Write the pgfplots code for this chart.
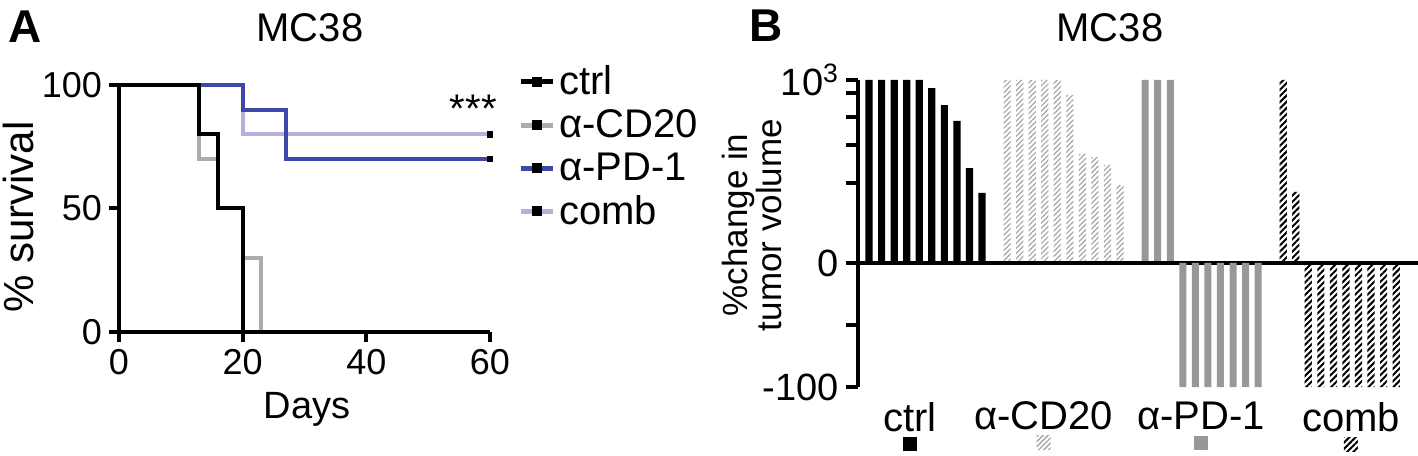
\documentclass[border=0pt]{standalone}
\usepackage{fontspec}
\setmainfont{Liberation Sans}
\usepackage{pgfplots}
\pgfplotsset{compat=1.18}
\usetikzlibrary{patterns,patterns.meta}

\definecolor{pdblue}{RGB}{63,72,170}
\definecolor{combpurple}{RGB}{180,176,218}
\definecolor{cdgray}{RGB}{172,172,172}
\definecolor{pdgray}{RGB}{152,152,152}
\definecolor{hatchgray}{RGB}{165,165,165}

\pgfplotsset{
  gp/.style={
    scale only axis,
    axis on top,
    axis x line=bottom, axis y line=left,
    axis line style={-, line width=2pt},
    tick align=outside,
    major tick length=5pt,
    tick style={line width=2pt, black},
    /pgf/number format/assume math mode=true,
  },
}

% small group keys shown under the category names
\newcommand{\key}[1]{\tikz\path[#1] (0pt,0pt) rectangle (7pt,7pt);}

\begin{document}
\begin{tikzpicture}
\useasboundingbox (0pt,0pt) rectangle (709pt,227.5pt);

% ---------- A: survival ----------
\node[anchor=base west, font=\fontsize{23}{25}\selectfont\bfseries] at (0.5pt,206pt) {A};
\node[anchor=base, font=\fontsize{20}{22}\selectfont] at (155pt,206.5pt) {MC38};

\begin{axis}[gp,
  at={(59.5pt,61.5pt)}, anchor=origin,
  width=185.5pt, height=123.5pt,
  xmin=0, xmax=60, ymin=0, ymax=100,
  xtick={0,20,40,60}, ytick={0,50,100},
  tick label style={font=\fontsize{18}{20}\selectfont},
  clip=false,
  legend image code/.code={
    \draw[#1] (0pt,0pt) -- (16pt,0pt);
    \fill[black] (6.8pt,-1.3pt) rectangle (9.4pt,1.3pt);},
  legend style={draw=none, fill=none, inner sep=0pt,
    at={(axis description cs:1.075,1.095)}, anchor=north west,
    font=\fontsize{20}{22}\selectfont, row sep=2pt},
  legend cell align=left,
]
\addlegendimage{black, line width=2.5pt}
\addlegendentry{ctrl}
\addlegendimage{cdgray, line width=2.5pt}
\addlegendentry{α-CD20}
\addlegendimage{pdblue, line width=2.5pt}
\addlegendentry{α-PD-1}
\addlegendimage{combpurple, line width=2.5pt}
\addlegendentry{comb}

\addplot[const plot, cdgray, line width=2pt, forget plot]
  coordinates {(0,100)(13,70)(16,50)(20,30)(23,0)};
\addplot[const plot, combpurple, line width=2pt, forget plot]
  coordinates {(0,100)(20,80)(60,80)};
\addplot[const plot, pdblue, line width=2pt, forget plot]
  coordinates {(0,100)(20,90)(27,70)(60,70)};
\addplot[const plot, black, line width=2pt, forget plot]
  coordinates {(0,100)(13,80)(16,50)(20,0)};
\addplot[only marks, mark=square*, mark size=1.3pt, black, forget plot]
  coordinates {(60,80)(60,70)};
\node[font=\fontsize{20}{22}\selectfont] at (axis cs:57.3,90.5) {***};
\end{axis}

\node[anchor=base, font=\fontsize{19}{21}\selectfont] at (153.5pt,18.5pt) {Days};
\node[rotate=90, font=\fontsize{21}{23}\selectfont] at (9pt,119pt) {\% survival};

% ---------- B: waterfall ----------
\node[anchor=base west, font=\fontsize{23}{25}\selectfont\bfseries] at (371pt,206.5pt) {B};
\node[anchor=base, font=\fontsize{20}{22}\selectfont] at (555pt,206.5pt) {MC38};
\node[rotate=90, align=center, font=\fontsize{17.5}{16}\selectfont] at (376pt,115pt)
  {\%change in\\tumor volume};

\begin{axis}[gp,
  at={(429pt,96pt)}, anchor=south west,
  width=280pt, height=91.5pt,
  xmin=0.12, xmax=44.74, ymin=0, ymax=1000,
  xtick=\empty,
  ytick={0,437,645,798,929,1000},
  yticklabels={0,{},{},{},{},10\textsuperscript{3}},
  major tick length=6pt,
  tick label style={font=\fontsize{19}{21}\selectfont},
]
\addplot[ybar, bar shift=0pt, bar width=3.6pt, fill=black, draw=none]
  coordinates {(1,1000)(2,1000)(3,1000)(4,1000)(5,1000)(6,956)(7,863)(8,776)(9,519)(10,383)};
\addplot[ybar, bar shift=0pt, bar width=3.6pt, draw=none,
  pattern={Lines[angle=45,distance=1.8pt,line width=0.6pt]}, pattern color=hatchgray]
  coordinates {(12,1000)(13,1000)(14,1000)(15,1000)(16,1000)(17,918)(18,596)(19,579)(20,536)(21,426)};
\addplot[ybar, bar shift=0pt, bar width=3.5pt, fill=pdgray, draw=none]
  coordinates {(23,1000)(24,1000)(25,1000)};
\addplot[ybar, bar shift=0pt, bar width=3.6pt, draw=none,
  pattern={Lines[angle=45,distance=2.2pt,line width=1pt]}, pattern color=black]
  coordinates {(34,1000)(35,388)};
\end{axis}

\begin{axis}[gp,
  at={(429pt,96pt)}, anchor=north west,
  width=280pt, height=62pt,
  xmin=0.12, xmax=44.74, ymin=-100, ymax=0,
  x axis line style={draw=none},
  major x tick style={draw=none},
  xtick={4.27,14.9,27.45,39.4},
  xticklabels={
    {ctrl\\[-12pt]\key{fill=black}},
    {α-CD20\\[-12pt]\key{pattern={Lines[angle=45,distance=1.8pt,line width=0.7pt]}, pattern color=hatchgray}},
    {α-PD-1\\[-12pt]\key{fill=pdgray}},
    {comb\\[-12pt]\key{pattern={Lines[angle=45,distance=2.2pt,line width=1pt]}, pattern color=black}}},
  ytick={-100,-50},
  yticklabels={-100,{}},
  major tick length=6pt,
  tick label style={font=\fontsize{19}{21}\selectfont},
  xticklabel style={font=\fontsize{20}{22}\selectfont, align=center, yshift=2pt},
  clip=false,
]
\addplot[ybar, bar shift=0pt, bar width=3.5pt, fill=pdgray, draw=none]
  coordinates {(26,-100)(27,-100)(28,-100)(29,-100)(30,-100)(31,-100)(32,-100)};
\addplot[ybar, bar shift=0pt, bar width=3.6pt, draw=none,
  pattern={Lines[angle=45,distance=2.2pt,line width=1pt]}, pattern color=black]
  coordinates {(36,-100)(37,-100)(38,-100)(39,-100)(40,-100)(41,-100)(42,-100)(43,-100)};
\end{axis}
\end{tikzpicture}
\end{document}
